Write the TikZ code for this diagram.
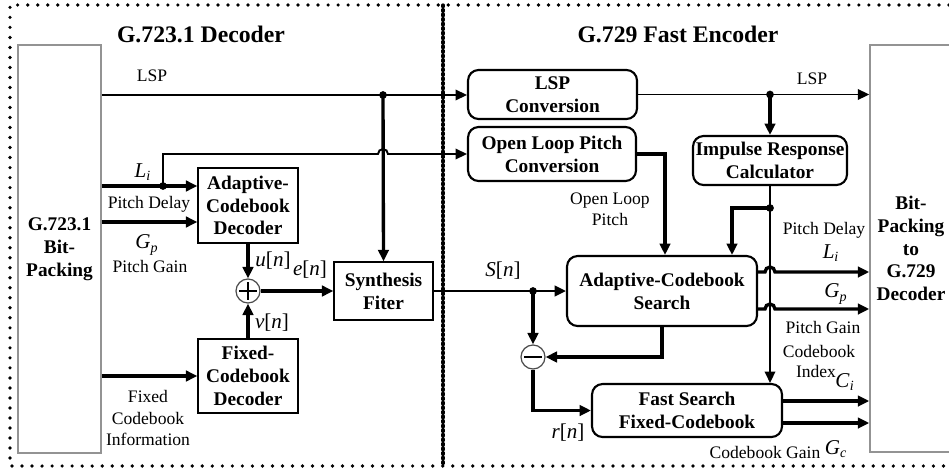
\documentclass[tikz,border=0pt]{standalone}
\usepackage{fontspec}
\setmainfont{Liberation Serif}
\usetikzlibrary{arrows.meta}

\newcommand{\boxfont}{\fontsize{11}{13}\selectfont\bfseries}
\newcommand{\titlefont}{\fontsize{13.5}{16}\selectfont\bfseries}
\newcommand{\lblfont}{\fontsize{10}{12}\selectfont}
\newcommand{\mthfont}{\fontsize{12}{14}\selectfont}
\newcommand{\vr}[1]{\textit{#1}}

\begin{document}
\begin{tikzpicture}[x=0.02cm,y=-0.02cm,
  thn/.style={line width=1.1pt},
  mid/.style={line width=1.5pt},
  thk/.style={line width=1.9pt},
  arr/.style={-{Triangle[length=6.5pt,width=6pt]}},
  sqbox/.style={draw,line width=0.8pt,align=center,inner sep=0pt,font=\boxfont},
  rbox/.style={draw,line width=1.2pt,rounded corners=6pt,align=center,inner sep=0pt,font=\boxfont},
  pkbox/.style={draw=gray!85,line width=0.9pt,align=center,inner sep=0pt,font=\boxfont},
  lbl/.style={inner sep=0pt,align=center,font=\lblfont},
  mth/.style={inner sep=0pt,font=\mthfont},
  jdot/.style={circle,fill,inner sep=0pt,minimum size=4.4pt},
  sumnode/.style={circle,draw=gray!60!black,line width=0.7pt,minimum size=0.48cm,inner sep=0pt},
  outer/.style={line width=2.1pt,line cap=round,dash pattern=on 0pt off 5.7pt},
  split/.style={line width=1.9pt,line cap=round,dash pattern=on 0.9pt off 1.7pt},
]
\useasboundingbox (0,0) rectangle (949,470);

% frame of the two halves
\draw[outer] (949,5) -- (10,5) -- (10,466) -- (949,466);
\draw[split] (443,5) -- (443,466);

% titles
\node[font=\titlefont] (t1) at (201,34) {G.723.1 Decoder};
\node[font=\titlefont] (t2) at (678,34) {G.729 Fast Encoder};

% decoder blocks
\node[pkbox,minimum width=1.66cm,minimum height=8.16cm] (lbp) at (59.5,249) {G.723.1\\Bit-\\Packing};
\node[sqbox,minimum width=2cm,minimum height=1.5cm] (acd) at (248,205.5) {Adaptive-\\Codebook\\Decoder};
\node[sqbox,minimum width=2cm,minimum height=1.48cm] (fcd) at (248,376) {Fixed-\\Codebook\\Decoder};
\node[sqbox,minimum width=1.98cm,minimum height=1.16cm] (syn) at (383.5,291) {Synthesis\\Fiter};
\node[sumnode] (plus) at (248,291) {};
\draw[line width=0.8pt] (plus.center) ++(-9,0) -- ++(18,0);
\draw[line width=0.8pt] (plus.center) ++(0,-9) -- ++(0,18);

% encoder blocks
\node[pkbox,minimum width=1.64cm,minimum height=8.14cm] (rbp) at (911,248.5) {Bit-\\Packing\\to\\G.729\\Decoder};
\node[rbox,minimum width=3.38cm,minimum height=0.98cm] (lspc) at (552.5,94.5) {LSP\\Conversion};
\node[rbox,minimum width=3.36cm,minimum height=1.08cm] (olp) at (552,154) {Open Loop Pitch\\Conversion};
\node[rbox,minimum width=3.08cm,minimum height=0.98cm] (irc) at (770,160.5) {Impulse Response\\Calculator};
\node[rbox,minimum width=3.8cm,minimum height=1.4cm] (acs) at (662,291) {Adaptive-Codebook\\Search};
\node[rbox,minimum width=3.8cm,minimum height=1.06cm] (fsfc) at (687,410.5) {Fast Search\\Fixed-Codebook};
\node[sumnode] (minus) at (533,357) {};
\draw[line width=0.8pt] (minus.center) ++(-9,0) -- ++(18,0);

% junctions and routing points
\coordinate (jL) at (383,95);
\coordinate (jLi) at (163,186);
\coordinate (rowGp) at (0,222);
\coordinate (jS) at (533,291);
\coordinate (jR) at (770,94.5);
\coordinate (jI) at (770,208);
\coordinate (a1) at (665,0);
\coordinate (a2) at (732,0);
\coordinate (rowL) at (0,272);
\coordinate (rowG) at (0,309);
\coordinate (rowC) at (0,401);
\coordinate (rowGc) at (0,423);

% decoder connections
\draw[thn,arr] (lbp.east |- jL) -- (lspc.west |- jL);
\draw[thk,arr] (jL) -- (syn.north);
\draw[thk,arr] (lbp.east |- jLi) -- (acd.west |- jLi);
\draw[thn,arr] (jLi) |- (378,154) arc[start angle=180,end angle=0,radius=2.835pt] -- (olp.west);
\draw[thk,arr] (lbp.east |- rowGp) -- (acd.west |- rowGp);
\draw[thk,arr] (lbp.east |- fcd.west) -- (fcd.west);
\draw[thk,arr] (acd.south) -- (plus.north);
\draw[thk,arr] (fcd.north) -- (plus.south);
\draw[thk,arr] (plus.east) -- (syn.west);
\node[jdot] (dL) at (jL) {};
\node[jdot] (dLi) at (jLi) {};

% encoder connections
\draw[mid,arr] (syn.east) -- (acs.west);
\draw[thk,arr] (jS) -- (minus.north);
\draw[thk,arr] (acs.south) |- (minus.east);
\draw[thk,arr] (minus.south) |- (fsfc.west);
\draw[thn,arr] (lspc.east) -- (rbp.west |- lspc.east);
\draw[thk,arr] (jR) -- (irc.north);
\draw[thn,arr] (irc.south) -- (irc.south |- fsfc.north);
\draw[thk,arr] (jI) -| (a2 |- acs.north);
\draw[thk,arr] (olp.east) -| (a1 |- acs.north);
\draw[thk,arr] (acs.east |- rowL) -- (765,272) arc[start angle=180,end angle=0,radius=2.835pt] -- (rbp.west |- rowL);
\draw[thk,arr] (acs.east |- rowG) -- (765,309) arc[start angle=180,end angle=0,radius=2.835pt] -- (rbp.west |- rowG);
\draw[thk,arr] (fsfc.east |- rowC) -- (rbp.west |- rowC);
\draw[thk,arr] (fsfc.east |- rowGc) -- (rbp.west |- rowGc);
\node[jdot] (dS) at (jS) {};
\node[jdot] (dR) at (jR) {};
\node[jdot] (dI) at (jI) {};

% labels, decoder side
\node[lbl] (lLSP1) at (152,76) {LSP};
\node[mth] (lLi1) at (143,172) {\vr{L}\textsubscript{\vr{i}}};
\node[lbl] (lPD1) at (149,204) {Pitch Delay};
\node[mth] (lGp1) at (147,245) {\vr{G}\textsubscript{\vr{p}}};
\node[lbl] (lPG1) at (150,266) {Pitch Gain};
\node[lbl] (lFCI) at (148,418) {Fixed\\Codebook\\Information};
\node[mth] (lu) at (273,261) {\vr{u}[\vr{n}]};
\node[mth] (le) at (310,270) {\vr{e}[\vr{n}]};
\node[mth] (lv) at (272,323) {\vr{v}[\vr{n}]};

% labels, encoder side
\node[mth] (lS) at (503,271) {\vr{S}[\vr{n}]};
\node[mth] (lr) at (568,433) {\vr{r}[\vr{n}]};
\node[lbl] (lOLP) at (610,209) {Open Loop\\Pitch};
\node[lbl] (lLSP2) at (812,79) {LSP};
\node[lbl] (lPD2) at (824,230) {Pitch Delay};
\node[mth] (lLi2) at (831,253) {\vr{L}\textsubscript{\vr{i}}};
\node[mth] (lGp2) at (836,294) {\vr{G}\textsubscript{\vr{p}}};
\node[lbl] (lPG2) at (823,327) {Pitch Gain};
\node[lbl] (lCB) at (819,351) {Codebook};
\node[lbl] (lIdx) at (816,371) {Index};
\node[mth] (lCi) at (845,382) {\vr{C}\textsubscript{\vr{i}}};
\node[lbl] (lCG) at (765,452) {Codebook Gain};
\node[mth] (lGc) at (836,449) {\vr{G}\textsubscript{\vr{c}}};
\end{tikzpicture}
\end{document}
